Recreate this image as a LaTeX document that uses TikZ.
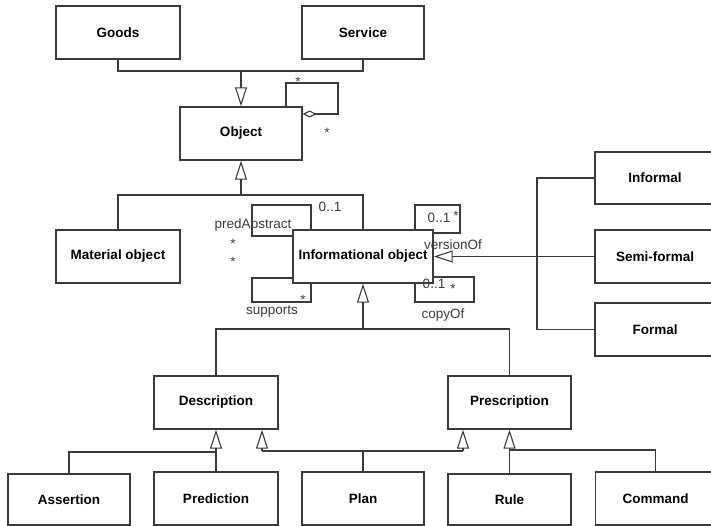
\documentclass[tikz,border=0pt]{standalone}
\usepackage{fontspec}
\setmainfont{Liberation Sans}
\usetikzlibrary{arrows.meta,calc}

\definecolor{ink}{HTML}{3A3A3A}

\tikzset{
  cls/.style={draw=ink, fill=white, line width=1.4pt, inner sep=0pt,
    minimum height=53pt, font=\fontsize{13.5}{15}\selectfont\bfseries},
  lbl/.style={inner sep=0pt, text=ink, font=\fontsize{13.5}{15}\selectfont},
  link/.style={draw=ink, line width=1.1pt},
  gen/.style={link, -{Triangle[open, length=19pt, width=12pt, line width=1.1pt]}},
  aggr/.style={link, -{Diamond[open, length=14pt, width=7pt, line width=1.1pt]}},
}

\begin{document}
\begin{tikzpicture}[x=1pt, y=-1pt]
\useasboundingbox (0,0) rectangle (711,526);
\clip (0,0) rectangle (711,526);

% junction points and self-association corners
\coordinate (j1) at (241,71);
\coordinate (j2) at (241,195);
\coordinate (j3) at (363,329);
\coordinate (j4) at (537,257);
\coordinate (j5) at (216,452);
\coordinate (j6) at (262,451);
\coordinate (j7) at (463,451);
\coordinate (j8) at (509.5,450);
\coordinate (oa1) at (286,83);
\coordinate (oa2) at (338,114);
\coordinate (pa1) at (311,205);
\coordinate (pa2) at (252,236);
\coordinate (sp1) at (252,278);
\coordinate (sp2) at (311,302);
\coordinate (vo1) at (415,205);
\coordinate (vo2) at (460,233);
\coordinate (co1) at (474,277);
\coordinate (co2) at (415,302);

% self-association loops around Informational object (drawn beneath the box)
\draw[link] (pa1 |- 0,230) -- (pa1) -| (pa2) -- (pa2 -| 293,0);
\draw[link] (sp1 -| 293,0) -- (sp1) |- (sp2) -- (sp2 |- 0,283);
\draw[link] (vo1 |- 0,230) -- (vo1) -| (vo2) -- (vo2 -| 433,0);
\draw[link] (co1 -| 433,0) -- (co1) |- (co2) -- (co2 |- 0,283);

% classes
\node[cls, minimum width=124pt] (goods)   at (118,32.5)  {Goods};
\node[cls, minimum width=122pt] (service) at (363,32.5)  {Service};
\node[cls, minimum width=122pt] (object)  at (241,133.5) {Object};
\node[cls, minimum width=124pt] (material) at (118,256.5) {Material object};
\node[cls, minimum width=140pt] (info)    at (363,256.5) {Informational object};
\node[cls, minimum width=120pt, minimum height=52pt] (informal) at (655,178) {Informal};
\node[cls, minimum width=120pt] (semi)    at (655,256.5) {Semi-formal};
\node[cls, minimum width=120pt] (formal)  at (655,329.5) {Formal};
\node[cls, minimum width=124pt] (descr)   at (216,402.5) {Description};
\node[cls, minimum width=123pt] (prescr)  at (509.5,402.5) {Prescription};
\node[cls, minimum width=122pt, minimum height=51pt] (assert) at (69,499.5) {Assertion};
\node[cls, minimum width=124pt] (predict) at (216,498.5) {Prediction};
\node[cls, minimum width=122pt] (plan)    at (363,498.5) {Plan};
\node[cls, minimum width=123pt, minimum height=51pt] (rule) at (509.5,499.5) {Rule};
\node[cls, minimum width=120pt] (command) at (655.5,498.5) {Command};

% Goods / Service generalise Object
\draw[link] (goods.south) |- (j1) -| (service.south);
\draw[gen] (j1) -- (object.north);

% aggregation of Object with itself
\draw[aggr] (oa1 |- object.north) -- (oa1) -| (oa2) -- (oa2 -| object.east);
\node[lbl] (m1) at (298,82) {*};
\node[lbl] (m2) at (327,133) {*};

% Material / Informational object generalise Object
\draw[link] (material.north) |- (j2) -| (info.north);
\draw[gen] (j2) -- (object.south);

% association labels
\node[lbl] (pa) at (253,225) {predAbstract};
\node[lbl] (pam) at (330,207) {0..1};
\node[lbl] (pas1) at (233,244) {*};
\node[lbl] (pas2) at (233,262) {*};
\node[lbl] (sps) at (303,300) {*};
\node[lbl] (sp) at (272,312) {supports};
\node[lbl] (vom) at (439,218) {0..1};
\node[lbl] (vos) at (456,216) {*};
\node[lbl] (vo) at (453,245) {versionOf};
\node[lbl] (com) at (434,284) {0..1};
\node[lbl] (cos) at (453,289) {*};
\node[lbl] (co) at (443,315) {copyOf};

% Informal / Semi-formal / Formal
\draw[link] (informal.west) -- (informal.west -| j4) -- (formal.west -| j4) -- (formal.west);
\draw[gen] (semi.west) -- (info.east);

% Description / Prescription generalise Informational object
\draw[link] (descr.north) |- (j3) -| (prescr.north);
\draw[gen] (j3) -- (info.south);

% leaves
\draw[link] (assert.north) |- (j5);
\draw[link] (predict.north) -- (j5);
\draw[gen] (j5) -- (descr.south);
\draw[link] (j6) -- (j7);
\draw[link] (plan.north) -- (plan.north |- j6);
\draw[gen] (j6) -- (j6 |- descr.south);
\draw[gen] (j7) -- (j7 |- prescr.south);
\draw[link] (rule.north) -- (j8);
\draw[link] (command.north) |- (j8);
\draw[gen] (j8) -- (prescr.south);
\end{tikzpicture}
\end{document}
